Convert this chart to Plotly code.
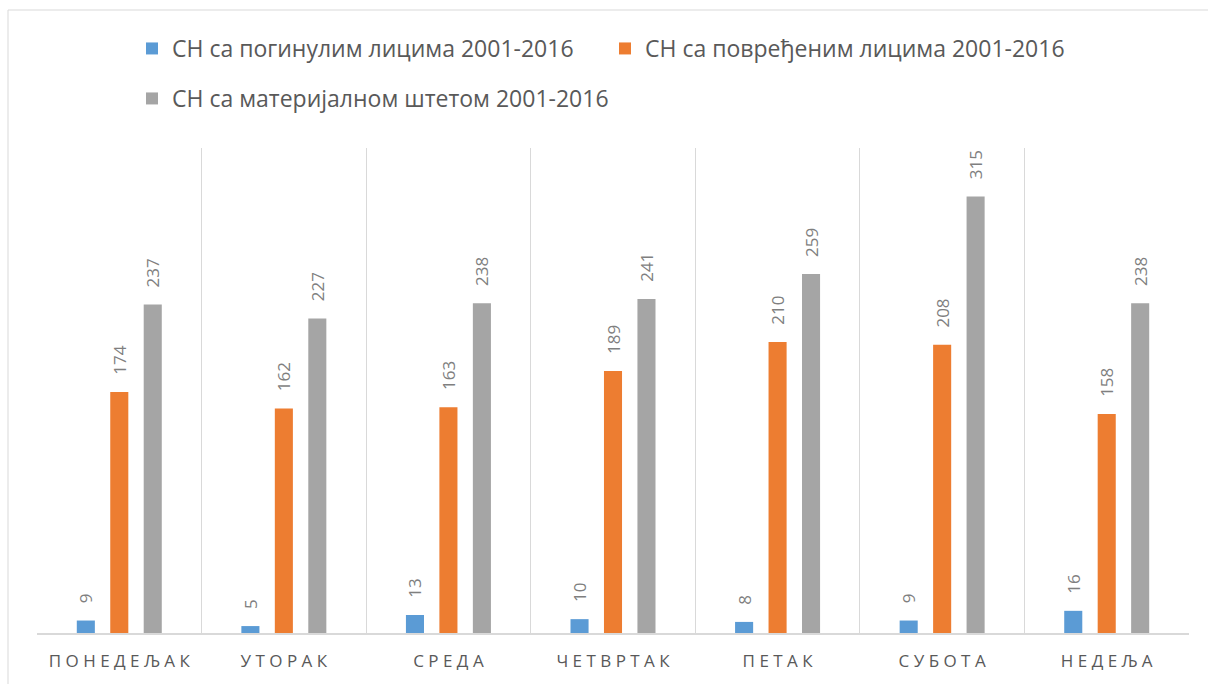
import plotly.graph_objects as go

categories = ["ПОНЕДЕЉАК", "УТОРАК", "СРЕДА", "ЧЕТВРТАК", "ПЕТАК", "СУБОТА", "НЕДЕЉА"]
tick_labels = [" ".join(c) for c in categories]
series_names = [
    "СН са погинулим лицима 2001-2016",
    "СН са повређеним лицима 2001-2016",
    "СН са материјалном штетом 2001-2016",
]
killed = [9, 5, 13, 10, 8, 9, 16]
injured = [174, 162, 163, 189, 210, 208, 158]
material = [237, 227, 238, 241, 259, 315, 238]
colors = ["#5b9bd5", "#ed7d31", "#a5a5a5"]
legend_ids = ["legend", "legend", "legend2"]

W, H = 1208, 684
L, R, T, B = 37, 19, 148, 51
pw, ph = W - L - R, H - T - B


def py(pix):
    return (H - B - pix) / ph


def px(pix):
    return (pix - L) / pw


pad = "<span style='color:rgba(0,0,0,0)'>0.</span>"

fig = go.Figure()
for name, vals, col, lg in zip(series_names, [killed, injured, material], colors, legend_ids):
    fig.add_trace(go.Bar(
        x=categories, y=vals, name=name, legend=lg,
        marker=dict(color=col, line=dict(width=0)),
        text=[f"{pad}{v}" for v in vals],
        textposition="outside", textangle=-90, cliponaxis=False,
        constraintext="none", hoverinfo="x+y+name",
        textfont=dict(family="Open Sans", size=17, color="#7f7f7f"),
    ))

legend_common = dict(
    orientation="h", xanchor="left", yanchor="top",
    font=dict(size=23, color="#595959"),
    itemwidth=30,
    bgcolor="rgba(0,0,0,0)",
)

fig.update_layout(
    width=W, height=H,
    margin=dict(l=L, r=R, t=T, b=B),
    paper_bgcolor="white", plot_bgcolor="white",
    barmode="group", bargap=0.39, bargroupgap=0.46,
    font=dict(family="Open Sans", color="#595959"),
    legend=dict(x=px(132), y=py(27), entrywidth=428, **legend_common),
    legend2=dict(x=px(132), y=py(77), entrywidth=520, **legend_common),
    xaxis=dict(
        tickmode="array", tickvals=categories, ticktext=tick_labels,
        tickson="boundaries", showgrid=True, gridcolor="#d9d9d9", gridwidth=1,
        showline=True, linecolor="#d9d9d9", linewidth=2,
        ticks="", ticklabelstandoff=12,
        tickfont=dict(size=17, color="#595959"),
        range=[-0.5, 6.5],
    ),
    yaxis=dict(range=[0, 350], showgrid=False, showticklabels=False,
               zeroline=False, showline=False, fixedrange=True),
    shapes=[dict(
        type="rect", xref="paper", yref="paper",
        x0=px(8), x1=px(W + 5),
        y0=py(H + 5), y1=py(10),
        line=dict(color="#d9d9d9", width=1), fillcolor="rgba(0,0,0,0)", layer="below",
    )],
)

fig.write_html(
    "out.html",
    config={"displayModeBar": False},
    post_script="document.body.style.margin='0';document.body.style.overflow='hidden';",
)
